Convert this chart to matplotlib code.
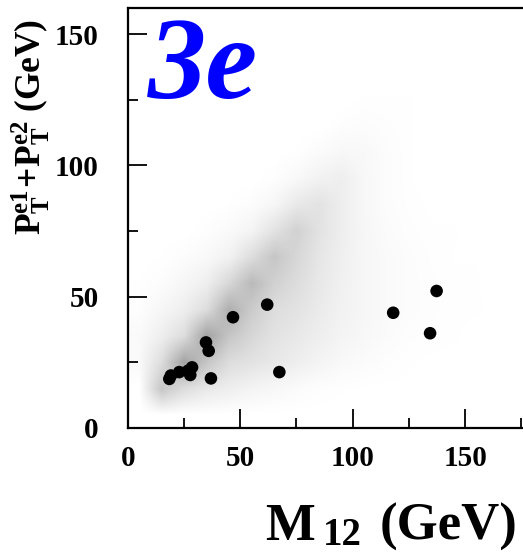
import matplotlib
matplotlib.use("Agg")
import matplotlib.pyplot as plt
import numpy as np
from matplotlib.colors import LinearSegmentedColormap, Normalize

# ---- data ----
# signal-candidate events (black dots)
m12 = [18.5, 19.2, 22.9, 26.8, 27.8, 28.6, 34.8, 36.0, 37.0, 46.8, 62.0, 67.4, 118.0, 134.4, 137.3]
pt_sum = [18.7, 20.0, 21.3, 21.8, 20.2, 23.1, 32.6, 29.4, 18.9, 42.2, 47.0, 21.3, 43.9, 36.1, 52.2]

# relative density of the simulated background (10 GeV cells, rows = PT bins from 0 upward,
# columns = M12 bins 0-10, 10-20, ..., 170-180), read from the speckle pattern
bg_x_edges = list(range(0, 190, 10))
bg_y_edges = list(range(0, 170, 10))
bg_density = [
    [0, 0,   0,   0,   0,   0,   0,   0,   0,   0,   0,   0,   0,   0,   0,   0,   0,   0],
    [0, 5,   3,   2,   1.5, 1,   0.7, 0.4, 0.2, 0.1, 0.05,0.05,0.05,0,   0,   0,   0,   0],
    [0.5,3,  8,   5,   3,   2.5, 2,   1.5, 1,   0.6, 0.4, 0.2, 0.1, 0.05,0.05,0.05,0.05,0],
    [0.5,1.5,3,   8,   5,   3.5, 2.5, 2,   1.5, 1,   0.7, 0.4, 0.2, 0.15,0.1, 0.05,0.05,0],
    [0.2,0.8,1.5, 3,   7,   4.5, 3,   2.5, 1.8, 1.2, 0.8, 0.5, 0.3, 0.2, 0.1, 0.1, 0.05,0],
    [0.1,0.3,0.8, 1.5, 3.5, 6,   4,   3,   2,   1.3, 0.8, 0.5, 0.3, 0.2, 0.1, 0.1, 0,   0],
    [0, 0.1, 0.3, 0.6, 1.2, 3,   5,   3.5, 2.2, 1.4, 0.8, 0.5, 0.3, 0.15,0.08,0.08,0,   0],
    [0, 0,   0,   0.2, 0.5, 1,   2.5, 4,   2.5, 1.5, 0.8, 0.4, 0.2, 0.1, 0.1, 0,   0,   0],
    [0, 0,   0,   0,   0.1, 0.3, 0.8, 2,   2.5, 1.5, 0.7, 0.3, 0.15,0.05,0.05,0,   0,   0],
    [0, 0,   0,   0,   0,   0,   0.2, 0.6, 1.2, 1.5, 0.7, 0.3, 0.1, 0,   0,   0,   0,   0],
    [0, 0,   0,   0,   0,   0,   0,   0.1, 0.4, 0.7, 0.6, 0.3, 0.1, 0,   0,   0,   0,   0],
    [0, 0,   0,   0,   0,   0,   0,   0,   0,   0.2, 0.3, 0.2, 0.1, 0,   0,   0,   0,   0],
    [0, 0,   0,   0,   0,   0,   0,   0,   0,   0,   0.1, 0.1, 0.1, 0,   0.05,0,   0,   0],
    [0, 0,   0,   0,   0,   0,   0,   0,   0,   0,   0,   0,   0,   0,   0,   0,   0,   0],
    [0, 0,   0,   0,   0,   0,   0,   0,   0,   0,   0,   0,   0,   0,   0,   0,   0,   0],
    [0, 0,   0,   0,   0,   0,   0,   0,   0,   0,   0,   0,   0,   0,   0,   0,   0,   0],
]

xticks_major = [0, 50, 100, 150]
yticks_major = [0, 50, 100, 150]
tick_labels_x = ["0", "50", "100", "150"]
tick_labels_y = ["0", "50", "100", "150"]

# ---- figure ----
plt.rcParams["mathtext.fontset"] = "custom"
plt.rcParams["mathtext.rm"] = "Liberation Serif:bold"
plt.rcParams["mathtext.bf"] = "Liberation Serif:bold"
plt.rcParams["mathtext.it"] = "Liberation Serif:bold"

W, H = 523, 553
fig = plt.figure(figsize=(W / 100, H / 100), dpi=100)
ax = fig.add_axes([127.7 / W, (H - 428) / H, 1 - 127.7 / W, 420 / H])

cmap = LinearSegmentedColormap.from_list("bg", ["#ffffff", "#000000"])
ax.imshow(np.array(bg_density), origin="lower",
          extent=(bg_x_edges[0], bg_x_edges[-1], bg_y_edges[0], bg_y_edges[-1]),
          cmap=cmap, norm=Normalize(vmin=0, vmax=22),
          interpolation="bilinear", aspect="auto", zorder=1)

ax.scatter(m12, pt_sum, s=82, color="black", edgecolors="none", zorder=3)

ax.set_xlim(0, 175.7)
ax.set_ylim(0, 160)

for s in ["left", "bottom", "top"]:
    ax.spines[s].set_linewidth(1.6)
ax.spines["right"].set_visible(False)

ax.set_xticks(xticks_major)
ax.set_xticklabels(tick_labels_x)
ax.set_yticks(yticks_major)
ax.set_yticklabels(tick_labels_y)
ax.set_xticks([25, 75, 125, 175], minor=True)
ax.set_yticks([25, 75, 125], minor=True)
ax.tick_params(which="major", direction="in", length=13.5, width=1.3)
ax.tick_params(which="minor", direction="in", length=7, width=1.3)
ax.tick_params(axis="x", which="major", pad=12)
ax.tick_params(axis="y", which="major", pad=21)
for lab in ax.get_xticklabels() + ax.get_yticklabels():
    lab.set_fontfamily("Liberation Serif")
    lab.set_fontweight("bold")
    lab.set_fontsize(21)

# "3e" label
ax.text(0.05, 0.786, "3e", transform=ax.transAxes, color="#0000ff",
        fontfamily="Liberation Serif", fontweight="bold", fontstyle="italic",
        fontsize=84, va="baseline", ha="left", zorder=4)

# x axis title
fig.text(265 / W, 1 - 540 / H, "M", fontfamily="Liberation Serif", fontweight="bold",
         fontsize=38, va="baseline", ha="left")
fig.text(323 / W, 1 - 545 / H, "12", fontfamily="Liberation Serif", fontweight="bold",
         fontsize=28, va="baseline", ha="left")
fig.text(518 / W, 1 - 540 / H, "(GeV)", fontfamily="Liberation Serif", fontweight="bold",
         fontsize=38, va="baseline", ha="right")

# y axis title
fig.text(31 / W, 1 - 127 / H, r"$\mathbf{P_T^{e1}\!+\!P_T^{e2}}$ (GeV)",
         fontfamily="Liberation Serif", fontweight="bold", fontsize=25.5,
         rotation=90, va="center", ha="center", rotation_mode="anchor")

fig.savefig("out.png", dpi=100)
